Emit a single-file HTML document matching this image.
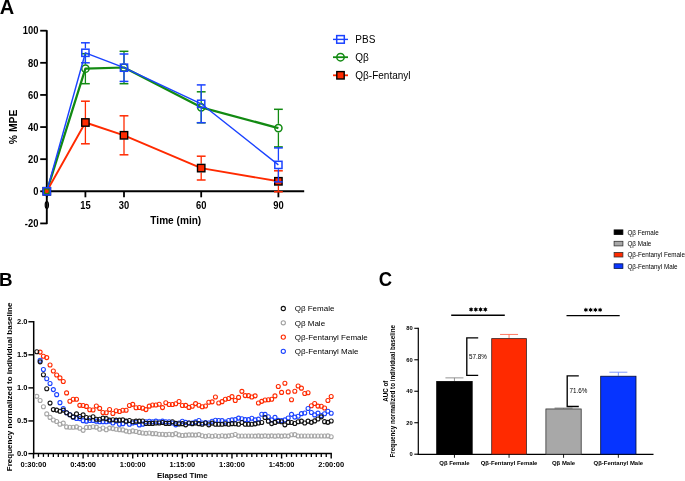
<!DOCTYPE html>
<html><head><meta charset="utf-8"><style>
html,body{margin:0;padding:0;background:#fff;width:685px;height:481px;overflow:hidden}
svg{display:block} .wrap{will-change:transform;width:685px;height:481px}
text{font-family:"Liberation Sans", sans-serif;fill:#000}
</style></head><body>
<div class="wrap"><svg width="685" height="481" viewBox="0 0 685 481">
<rect width="685" height="481" fill="#fff"/>
<text x="-0.3" y="13.7" font-size="20" font-weight="bold" fill="#111">A</text>
<line x1="46.8" y1="30.2" x2="46.8" y2="224.1" stroke="#000" stroke-width="1.9"/>
<line x1="45.9" y1="191.3" x2="304.2" y2="191.3" stroke="#000" stroke-width="1.9"/>
<line x1="40.2" y1="30.69999999999999" x2="46.8" y2="30.69999999999999" stroke="#000" stroke-width="1.8"/>
<text transform="translate(38.4,34.39999999999999) scale(1,1.13)" font-size="9.4" font-weight="bold" text-anchor="end">100</text>
<line x1="40.2" y1="62.81999999999999" x2="46.8" y2="62.81999999999999" stroke="#000" stroke-width="1.8"/>
<text transform="translate(38.4,66.52) scale(1,1.13)" font-size="9.4" font-weight="bold" text-anchor="end">80</text>
<line x1="40.2" y1="94.94000000000001" x2="46.8" y2="94.94000000000001" stroke="#000" stroke-width="1.8"/>
<text transform="translate(38.4,98.64000000000001) scale(1,1.13)" font-size="9.4" font-weight="bold" text-anchor="end">60</text>
<line x1="40.2" y1="127.06" x2="46.8" y2="127.06" stroke="#000" stroke-width="1.8"/>
<text transform="translate(38.4,130.76) scale(1,1.13)" font-size="9.4" font-weight="bold" text-anchor="end">40</text>
<line x1="40.2" y1="159.18" x2="46.8" y2="159.18" stroke="#000" stroke-width="1.8"/>
<text transform="translate(38.4,162.88) scale(1,1.13)" font-size="9.4" font-weight="bold" text-anchor="end">20</text>
<line x1="40.2" y1="191.3" x2="46.8" y2="191.3" stroke="#000" stroke-width="1.8"/>
<text transform="translate(38.4,195.0) scale(1,1.13)" font-size="9.4" font-weight="bold" text-anchor="end">0</text>
<line x1="40.2" y1="223.42000000000002" x2="46.8" y2="223.42000000000002" stroke="#000" stroke-width="1.8"/>
<text transform="translate(38.4,227.12) scale(1,1.13)" font-size="9.4" font-weight="bold" text-anchor="end">-20</text>
<line x1="46.8" y1="191" x2="46.8" y2="197.3" stroke="#000" stroke-width="1.8"/>
<text transform="translate(46.8,208.5) scale(1,1.13)" font-size="9.4" font-weight="bold" text-anchor="middle">0</text>
<line x1="85.39999999999999" y1="191" x2="85.39999999999999" y2="197.3" stroke="#000" stroke-width="1.8"/>
<text transform="translate(85.39999999999999,208.5) scale(1,1.13)" font-size="9.4" font-weight="bold" text-anchor="middle">15</text>
<line x1="123.99999999999999" y1="191" x2="123.99999999999999" y2="197.3" stroke="#000" stroke-width="1.8"/>
<text transform="translate(123.99999999999999,208.5) scale(1,1.13)" font-size="9.4" font-weight="bold" text-anchor="middle">30</text>
<line x1="201.2" y1="191" x2="201.2" y2="197.3" stroke="#000" stroke-width="1.8"/>
<text transform="translate(201.2,208.5) scale(1,1.13)" font-size="9.4" font-weight="bold" text-anchor="middle">60</text>
<line x1="278.4" y1="191" x2="278.4" y2="197.3" stroke="#000" stroke-width="1.8"/>
<text transform="translate(278.4,208.5) scale(1,1.13)" font-size="9.4" font-weight="bold" text-anchor="middle">90</text>
<text x="175.8" y="224.35" font-size="10.1" font-weight="bold" text-anchor="middle">Time (min)</text>
<text transform="translate(17,126.9) rotate(-90)" font-size="10.4" font-weight="bold" text-anchor="middle">% MPE</text>
<line x1="85.39999999999999" y1="53.7" x2="85.39999999999999" y2="64.4" stroke="#128a12" stroke-width="1.3"/>
<line x1="85.39999999999999" y1="73.0" x2="85.39999999999999" y2="83.7" stroke="#128a12" stroke-width="1.3"/>
<line x1="80.99999999999999" y1="53.7" x2="89.8" y2="53.7" stroke="#128a12" stroke-width="1.5"/>
<line x1="80.99999999999999" y1="83.7" x2="89.8" y2="83.7" stroke="#128a12" stroke-width="1.5"/>
<line x1="123.99999999999999" y1="51.3" x2="123.99999999999999" y2="63.2" stroke="#128a12" stroke-width="1.3"/>
<line x1="123.99999999999999" y1="71.8" x2="123.99999999999999" y2="83.7" stroke="#128a12" stroke-width="1.3"/>
<line x1="119.59999999999998" y1="51.3" x2="128.39999999999998" y2="51.3" stroke="#128a12" stroke-width="1.5"/>
<line x1="119.59999999999998" y1="83.7" x2="128.39999999999998" y2="83.7" stroke="#128a12" stroke-width="1.5"/>
<line x1="201.2" y1="91.8" x2="201.2" y2="103.0" stroke="#128a12" stroke-width="1.3"/>
<line x1="201.2" y1="111.6" x2="201.2" y2="122.8" stroke="#128a12" stroke-width="1.3"/>
<line x1="196.79999999999998" y1="91.8" x2="205.6" y2="91.8" stroke="#128a12" stroke-width="1.5"/>
<line x1="196.79999999999998" y1="122.8" x2="205.6" y2="122.8" stroke="#128a12" stroke-width="1.5"/>
<line x1="278.4" y1="109.3" x2="278.4" y2="123.8" stroke="#128a12" stroke-width="1.3"/>
<line x1="278.4" y1="132.4" x2="278.4" y2="146.9" stroke="#128a12" stroke-width="1.3"/>
<line x1="274.0" y1="109.3" x2="282.79999999999995" y2="109.3" stroke="#128a12" stroke-width="1.5"/>
<line x1="274.0" y1="146.9" x2="282.79999999999995" y2="146.9" stroke="#128a12" stroke-width="1.5"/>
<polyline points="46.80,191.30 85.40,68.70 124.00,67.50 201.20,107.30 278.40,128.10" fill="none" stroke="#128a12" stroke-width="2.25" stroke-linejoin="round"/>
<circle cx="46.8" cy="191.3" r="3.6" fill="none" stroke="#128a12" stroke-width="1.5"/>
<circle cx="85.39999999999999" cy="68.7" r="3.6" fill="none" stroke="#128a12" stroke-width="1.5"/>
<circle cx="123.99999999999999" cy="67.5" r="3.6" fill="none" stroke="#128a12" stroke-width="1.5"/>
<circle cx="201.2" cy="107.3" r="3.6" fill="none" stroke="#128a12" stroke-width="1.5"/>
<circle cx="278.4" cy="128.1" r="3.6" fill="none" stroke="#128a12" stroke-width="1.5"/>
<line x1="85.39999999999999" y1="101.2" x2="85.39999999999999" y2="118.2" stroke="#ff2a00" stroke-width="1.3"/>
<line x1="85.39999999999999" y1="126.8" x2="85.39999999999999" y2="143.8" stroke="#ff2a00" stroke-width="1.3"/>
<line x1="80.99999999999999" y1="101.2" x2="89.8" y2="101.2" stroke="#ff2a00" stroke-width="1.5"/>
<line x1="80.99999999999999" y1="143.8" x2="89.8" y2="143.8" stroke="#ff2a00" stroke-width="1.5"/>
<line x1="123.99999999999999" y1="115.80000000000001" x2="123.99999999999999" y2="131.0" stroke="#ff2a00" stroke-width="1.3"/>
<line x1="123.99999999999999" y1="139.60000000000002" x2="123.99999999999999" y2="154.8" stroke="#ff2a00" stroke-width="1.3"/>
<line x1="119.59999999999998" y1="115.80000000000001" x2="128.39999999999998" y2="115.80000000000001" stroke="#ff2a00" stroke-width="1.5"/>
<line x1="119.59999999999998" y1="154.8" x2="128.39999999999998" y2="154.8" stroke="#ff2a00" stroke-width="1.5"/>
<line x1="201.2" y1="156.2" x2="201.2" y2="163.79999999999998" stroke="#ff2a00" stroke-width="1.3"/>
<line x1="201.2" y1="172.4" x2="201.2" y2="180.0" stroke="#ff2a00" stroke-width="1.3"/>
<line x1="196.79999999999998" y1="156.2" x2="205.6" y2="156.2" stroke="#ff2a00" stroke-width="1.5"/>
<line x1="196.79999999999998" y1="180.0" x2="205.6" y2="180.0" stroke="#ff2a00" stroke-width="1.5"/>
<line x1="278.4" y1="170.8" x2="278.4" y2="177.0" stroke="#ff2a00" stroke-width="1.3"/>
<line x1="278.4" y1="185.60000000000002" x2="278.4" y2="191.8" stroke="#ff2a00" stroke-width="1.3"/>
<line x1="274.0" y1="170.8" x2="282.79999999999995" y2="170.8" stroke="#ff2a00" stroke-width="1.5"/>
<line x1="274.0" y1="191.8" x2="282.79999999999995" y2="191.8" stroke="#ff2a00" stroke-width="1.5"/>
<polyline points="46.80,191.30 85.40,122.50 124.00,135.30 201.20,168.10 278.40,181.30" fill="none" stroke="#ff2a00" stroke-width="1.9" stroke-linejoin="round"/>
<rect x="43.099999999999994" y="187.60000000000002" width="7.4" height="7.4" fill="#ff2a00" stroke="#000" stroke-width="1.4"/>
<rect x="81.69999999999999" y="118.8" width="7.4" height="7.4" fill="#ff2a00" stroke="#000" stroke-width="1.4"/>
<rect x="120.29999999999998" y="131.60000000000002" width="7.4" height="7.4" fill="#ff2a00" stroke="#000" stroke-width="1.4"/>
<rect x="197.5" y="164.4" width="7.4" height="7.4" fill="#ff2a00" stroke="#000" stroke-width="1.4"/>
<rect x="274.7" y="177.60000000000002" width="7.4" height="7.4" fill="#ff2a00" stroke="#000" stroke-width="1.4"/>
<line x1="85.39999999999999" y1="42.8" x2="85.39999999999999" y2="48.5" stroke="#1a42ff" stroke-width="1.3"/>
<line x1="85.39999999999999" y1="57.099999999999994" x2="85.39999999999999" y2="62.8" stroke="#1a42ff" stroke-width="1.3"/>
<line x1="80.99999999999999" y1="42.8" x2="89.8" y2="42.8" stroke="#1a42ff" stroke-width="1.5"/>
<line x1="80.99999999999999" y1="62.8" x2="89.8" y2="62.8" stroke="#1a42ff" stroke-width="1.5"/>
<line x1="123.99999999999999" y1="54.0" x2="123.99999999999999" y2="63.400000000000006" stroke="#1a42ff" stroke-width="1.3"/>
<line x1="123.99999999999999" y1="72.0" x2="123.99999999999999" y2="81.4" stroke="#1a42ff" stroke-width="1.3"/>
<line x1="119.59999999999998" y1="54.0" x2="128.39999999999998" y2="54.0" stroke="#1a42ff" stroke-width="1.5"/>
<line x1="119.59999999999998" y1="81.4" x2="128.39999999999998" y2="81.4" stroke="#1a42ff" stroke-width="1.5"/>
<line x1="201.2" y1="84.9" x2="201.2" y2="99.5" stroke="#1a42ff" stroke-width="1.3"/>
<line x1="201.2" y1="108.1" x2="201.2" y2="122.69999999999999" stroke="#1a42ff" stroke-width="1.3"/>
<line x1="196.79999999999998" y1="84.9" x2="205.6" y2="84.9" stroke="#1a42ff" stroke-width="1.5"/>
<line x1="196.79999999999998" y1="122.69999999999999" x2="205.6" y2="122.69999999999999" stroke="#1a42ff" stroke-width="1.5"/>
<line x1="278.4" y1="147.9" x2="278.4" y2="160.6" stroke="#1a42ff" stroke-width="1.3"/>
<line x1="278.4" y1="169.20000000000002" x2="278.4" y2="181.9" stroke="#1a42ff" stroke-width="1.3"/>
<line x1="274.0" y1="147.9" x2="282.79999999999995" y2="147.9" stroke="#1a42ff" stroke-width="1.5"/>
<line x1="274.0" y1="181.9" x2="282.79999999999995" y2="181.9" stroke="#1a42ff" stroke-width="1.5"/>
<polyline points="46.80,191.30 85.40,52.80 124.00,67.70 201.20,103.80 278.40,164.90" fill="none" stroke="#1a42ff" stroke-width="1.4" stroke-linejoin="round"/>
<circle cx="46.8" cy="191.3" r="2.6" fill="#ff2a00" stroke="#128a12" stroke-width="1.2"/>
<rect x="43.199999999999996" y="187.70000000000002" width="7.2" height="7.2" fill="none" stroke="#1a42ff" stroke-width="1.5"/>
<rect x="81.8" y="49.199999999999996" width="7.2" height="7.2" fill="none" stroke="#1a42ff" stroke-width="1.5"/>
<rect x="120.39999999999999" y="64.10000000000001" width="7.2" height="7.2" fill="none" stroke="#1a42ff" stroke-width="1.5"/>
<rect x="197.6" y="100.2" width="7.2" height="7.2" fill="none" stroke="#1a42ff" stroke-width="1.5"/>
<rect x="274.79999999999995" y="161.3" width="7.2" height="7.2" fill="none" stroke="#1a42ff" stroke-width="1.5"/>
<line x1="333" y1="39.4" x2="348" y2="39.4" stroke="#1a42ff" stroke-width="1.4"/>
<rect x="336.7" y="35.6" width="7.6" height="7.6" fill="none" stroke="#1a42ff" stroke-width="1.5"/>
<line x1="333" y1="57.2" x2="348" y2="57.2" stroke="#128a12" stroke-width="1.8"/>
<circle cx="340.5" cy="57.2" r="3.7" fill="none" stroke="#128a12" stroke-width="1.5"/>
<line x1="333" y1="75.3" x2="348" y2="75.3" stroke="#ff2a00" stroke-width="1.8"/>
<rect x="336.8" y="71.6" width="7.4" height="7.4" fill="#ff2a00" stroke="#000" stroke-width="1.4"/>
<text x="355.3" y="42.8" font-size="10" fill="#111">PBS</text>
<text x="355.3" y="60.6" font-size="10" fill="#111">Qβ</text>
<text x="355.3" y="78.7" font-size="10" fill="#111">Qβ-Fentanyl</text>
<text x="-1.0" y="285.7" font-size="18.8" font-weight="bold" fill="#111">B</text>
<line x1="33.7" y1="321.0" x2="33.7" y2="454.3" stroke="#000" stroke-width="1.5"/>
<line x1="33.0" y1="453.6" x2="331.9" y2="453.6" stroke="#000" stroke-width="1.5"/>
<line x1="28.4" y1="453.6" x2="33.8" y2="453.6" stroke="#000" stroke-width="1.4"/>
<text x="27.5" y="456.0" font-size="7.5" font-weight="bold" text-anchor="end">0.0</text>
<line x1="28.4" y1="420.9375" x2="33.8" y2="420.9375" stroke="#000" stroke-width="1.4"/>
<text x="27.5" y="422.9375" font-size="7.5" font-weight="bold" text-anchor="end">0.5</text>
<line x1="28.4" y1="387.875" x2="33.8" y2="387.875" stroke="#000" stroke-width="1.4"/>
<text x="27.5" y="389.875" font-size="7.5" font-weight="bold" text-anchor="end">1.0</text>
<line x1="28.4" y1="354.8125" x2="33.8" y2="354.8125" stroke="#000" stroke-width="1.4"/>
<text x="27.5" y="356.8125" font-size="7.5" font-weight="bold" text-anchor="end">1.5</text>
<line x1="28.4" y1="321.75" x2="33.8" y2="321.75" stroke="#000" stroke-width="1.4"/>
<text x="27.5" y="323.75" font-size="7.5" font-weight="bold" text-anchor="end">2.0</text>
<line x1="33.50" y1="453.6" x2="33.50" y2="458.5" stroke="#000" stroke-width="1.4"/>
<text x="33.50" y="466.7" font-size="7.5" font-weight="bold" text-anchor="middle">0:30:00</text>
<line x1="38.46" y1="453.6" x2="38.46" y2="456.9" stroke="#000" stroke-width="1.3"/>
<line x1="43.42" y1="453.6" x2="43.42" y2="456.9" stroke="#000" stroke-width="1.3"/>
<line x1="48.38" y1="453.6" x2="48.38" y2="456.9" stroke="#000" stroke-width="1.3"/>
<line x1="53.35" y1="453.6" x2="53.35" y2="456.9" stroke="#000" stroke-width="1.3"/>
<line x1="58.31" y1="453.6" x2="58.31" y2="456.9" stroke="#000" stroke-width="1.3"/>
<line x1="63.27" y1="453.6" x2="63.27" y2="456.9" stroke="#000" stroke-width="1.3"/>
<line x1="68.23" y1="453.6" x2="68.23" y2="456.9" stroke="#000" stroke-width="1.3"/>
<line x1="73.19" y1="453.6" x2="73.19" y2="456.9" stroke="#000" stroke-width="1.3"/>
<line x1="78.16" y1="453.6" x2="78.16" y2="456.9" stroke="#000" stroke-width="1.3"/>
<line x1="83.12" y1="453.6" x2="83.12" y2="458.5" stroke="#000" stroke-width="1.4"/>
<text x="83.12" y="466.7" font-size="7.5" font-weight="bold" text-anchor="middle">0:45:00</text>
<line x1="88.08" y1="453.6" x2="88.08" y2="456.9" stroke="#000" stroke-width="1.3"/>
<line x1="93.04" y1="453.6" x2="93.04" y2="456.9" stroke="#000" stroke-width="1.3"/>
<line x1="98.00" y1="453.6" x2="98.00" y2="456.9" stroke="#000" stroke-width="1.3"/>
<line x1="102.96" y1="453.6" x2="102.96" y2="456.9" stroke="#000" stroke-width="1.3"/>
<line x1="107.92" y1="453.6" x2="107.92" y2="456.9" stroke="#000" stroke-width="1.3"/>
<line x1="112.89" y1="453.6" x2="112.89" y2="456.9" stroke="#000" stroke-width="1.3"/>
<line x1="117.85" y1="453.6" x2="117.85" y2="456.9" stroke="#000" stroke-width="1.3"/>
<line x1="122.81" y1="453.6" x2="122.81" y2="456.9" stroke="#000" stroke-width="1.3"/>
<line x1="127.77" y1="453.6" x2="127.77" y2="456.9" stroke="#000" stroke-width="1.3"/>
<line x1="132.73" y1="453.6" x2="132.73" y2="458.5" stroke="#000" stroke-width="1.4"/>
<text x="132.73" y="466.7" font-size="7.5" font-weight="bold" text-anchor="middle">1:00:00</text>
<line x1="137.69" y1="453.6" x2="137.69" y2="456.9" stroke="#000" stroke-width="1.3"/>
<line x1="142.66" y1="453.6" x2="142.66" y2="456.9" stroke="#000" stroke-width="1.3"/>
<line x1="147.62" y1="453.6" x2="147.62" y2="456.9" stroke="#000" stroke-width="1.3"/>
<line x1="152.58" y1="453.6" x2="152.58" y2="456.9" stroke="#000" stroke-width="1.3"/>
<line x1="157.54" y1="453.6" x2="157.54" y2="456.9" stroke="#000" stroke-width="1.3"/>
<line x1="162.50" y1="453.6" x2="162.50" y2="456.9" stroke="#000" stroke-width="1.3"/>
<line x1="167.46" y1="453.6" x2="167.46" y2="456.9" stroke="#000" stroke-width="1.3"/>
<line x1="172.43" y1="453.6" x2="172.43" y2="456.9" stroke="#000" stroke-width="1.3"/>
<line x1="177.39" y1="453.6" x2="177.39" y2="456.9" stroke="#000" stroke-width="1.3"/>
<line x1="182.35" y1="453.6" x2="182.35" y2="458.5" stroke="#000" stroke-width="1.4"/>
<text x="182.35" y="466.7" font-size="7.5" font-weight="bold" text-anchor="middle">1:15:00</text>
<line x1="187.31" y1="453.6" x2="187.31" y2="456.9" stroke="#000" stroke-width="1.3"/>
<line x1="192.27" y1="453.6" x2="192.27" y2="456.9" stroke="#000" stroke-width="1.3"/>
<line x1="197.23" y1="453.6" x2="197.23" y2="456.9" stroke="#000" stroke-width="1.3"/>
<line x1="202.20" y1="453.6" x2="202.20" y2="456.9" stroke="#000" stroke-width="1.3"/>
<line x1="207.16" y1="453.6" x2="207.16" y2="456.9" stroke="#000" stroke-width="1.3"/>
<line x1="212.12" y1="453.6" x2="212.12" y2="456.9" stroke="#000" stroke-width="1.3"/>
<line x1="217.08" y1="453.6" x2="217.08" y2="456.9" stroke="#000" stroke-width="1.3"/>
<line x1="222.04" y1="453.6" x2="222.04" y2="456.9" stroke="#000" stroke-width="1.3"/>
<line x1="227.00" y1="453.6" x2="227.00" y2="456.9" stroke="#000" stroke-width="1.3"/>
<line x1="231.97" y1="453.6" x2="231.97" y2="458.5" stroke="#000" stroke-width="1.4"/>
<text x="231.97" y="466.7" font-size="7.5" font-weight="bold" text-anchor="middle">1:30:00</text>
<line x1="236.93" y1="453.6" x2="236.93" y2="456.9" stroke="#000" stroke-width="1.3"/>
<line x1="241.89" y1="453.6" x2="241.89" y2="456.9" stroke="#000" stroke-width="1.3"/>
<line x1="246.85" y1="453.6" x2="246.85" y2="456.9" stroke="#000" stroke-width="1.3"/>
<line x1="251.81" y1="453.6" x2="251.81" y2="456.9" stroke="#000" stroke-width="1.3"/>
<line x1="256.77" y1="453.6" x2="256.77" y2="456.9" stroke="#000" stroke-width="1.3"/>
<line x1="261.74" y1="453.6" x2="261.74" y2="456.9" stroke="#000" stroke-width="1.3"/>
<line x1="266.70" y1="453.6" x2="266.70" y2="456.9" stroke="#000" stroke-width="1.3"/>
<line x1="271.66" y1="453.6" x2="271.66" y2="456.9" stroke="#000" stroke-width="1.3"/>
<line x1="276.62" y1="453.6" x2="276.62" y2="456.9" stroke="#000" stroke-width="1.3"/>
<line x1="281.58" y1="453.6" x2="281.58" y2="458.5" stroke="#000" stroke-width="1.4"/>
<text x="281.58" y="466.7" font-size="7.5" font-weight="bold" text-anchor="middle">1:45:00</text>
<line x1="286.54" y1="453.6" x2="286.54" y2="456.9" stroke="#000" stroke-width="1.3"/>
<line x1="291.51" y1="453.6" x2="291.51" y2="456.9" stroke="#000" stroke-width="1.3"/>
<line x1="296.47" y1="453.6" x2="296.47" y2="456.9" stroke="#000" stroke-width="1.3"/>
<line x1="301.43" y1="453.6" x2="301.43" y2="456.9" stroke="#000" stroke-width="1.3"/>
<line x1="306.39" y1="453.6" x2="306.39" y2="456.9" stroke="#000" stroke-width="1.3"/>
<line x1="311.35" y1="453.6" x2="311.35" y2="456.9" stroke="#000" stroke-width="1.3"/>
<line x1="316.31" y1="453.6" x2="316.31" y2="456.9" stroke="#000" stroke-width="1.3"/>
<line x1="321.28" y1="453.6" x2="321.28" y2="456.9" stroke="#000" stroke-width="1.3"/>
<line x1="326.24" y1="453.6" x2="326.24" y2="456.9" stroke="#000" stroke-width="1.3"/>
<line x1="331.20" y1="453.6" x2="331.20" y2="458.5" stroke="#000" stroke-width="1.4"/>
<text x="331.20" y="466.7" font-size="7.5" font-weight="bold" text-anchor="middle">2:00:00</text>
<text x="182.4" y="478.1" font-size="7.9" font-weight="bold" text-anchor="middle">Elapsed Time</text>
<text transform="translate(12,386.9) rotate(-90)" font-size="8.0" font-weight="bold" text-anchor="middle">Frequency normalized to individual baseline</text>
<g fill="none" stroke="#a6a6a6" stroke-width="1.1"><circle cx="36.81" cy="396.33" r="2.0"/><circle cx="40.12" cy="400.55" r="2.0"/><circle cx="43.42" cy="406.79" r="2.0"/><circle cx="46.73" cy="413.91" r="2.0"/><circle cx="50.04" cy="417.40" r="2.0"/><circle cx="53.35" cy="420.07" r="2.0"/><circle cx="56.65" cy="421.53" r="2.0"/><circle cx="59.96" cy="424.19" r="2.0"/><circle cx="63.27" cy="423.17" r="2.0"/><circle cx="66.58" cy="426.89" r="2.0"/><circle cx="69.89" cy="427.31" r="2.0"/><circle cx="73.19" cy="427.32" r="2.0"/><circle cx="76.50" cy="426.91" r="2.0"/><circle cx="79.81" cy="428.32" r="2.0"/><circle cx="83.12" cy="430.37" r="2.0"/><circle cx="86.42" cy="427.40" r="2.0"/><circle cx="89.73" cy="427.40" r="2.0"/><circle cx="93.04" cy="426.79" r="2.0"/><circle cx="96.35" cy="427.14" r="2.0"/><circle cx="99.66" cy="429.23" r="2.0"/><circle cx="102.96" cy="428.07" r="2.0"/><circle cx="106.27" cy="429.79" r="2.0"/><circle cx="109.58" cy="428.09" r="2.0"/><circle cx="112.89" cy="428.61" r="2.0"/><circle cx="116.19" cy="429.27" r="2.0"/><circle cx="119.50" cy="429.64" r="2.0"/><circle cx="122.81" cy="429.90" r="2.0"/><circle cx="126.12" cy="431.12" r="2.0"/><circle cx="129.43" cy="431.76" r="2.0"/><circle cx="132.73" cy="430.90" r="2.0"/><circle cx="136.04" cy="431.52" r="2.0"/><circle cx="139.35" cy="432.38" r="2.0"/><circle cx="142.66" cy="433.03" r="2.0"/><circle cx="145.96" cy="433.37" r="2.0"/><circle cx="149.27" cy="433.04" r="2.0"/><circle cx="152.58" cy="433.64" r="2.0"/><circle cx="155.89" cy="433.64" r="2.0"/><circle cx="159.20" cy="434.26" r="2.0"/><circle cx="162.50" cy="434.27" r="2.0"/><circle cx="165.81" cy="434.63" r="2.0"/><circle cx="169.12" cy="434.27" r="2.0"/><circle cx="172.43" cy="434.63" r="2.0"/><circle cx="175.73" cy="433.66" r="2.0"/><circle cx="179.04" cy="434.88" r="2.0"/><circle cx="182.35" cy="435.50" r="2.0"/><circle cx="185.66" cy="435.15" r="2.0"/><circle cx="188.97" cy="434.89" r="2.0"/><circle cx="192.27" cy="434.88" r="2.0"/><circle cx="195.58" cy="435.12" r="2.0"/><circle cx="198.89" cy="434.65" r="2.0"/><circle cx="202.20" cy="435.80" r="2.0"/><circle cx="205.50" cy="436.22" r="2.0"/><circle cx="208.81" cy="435.78" r="2.0"/><circle cx="212.12" cy="436.22" r="2.0"/><circle cx="215.43" cy="435.79" r="2.0"/><circle cx="218.74" cy="436.20" r="2.0"/><circle cx="222.04" cy="435.82" r="2.0"/><circle cx="225.35" cy="436.16" r="2.0"/><circle cx="228.66" cy="435.87" r="2.0"/><circle cx="231.97" cy="435.22" r="2.0"/><circle cx="235.27" cy="434.51" r="2.0"/><circle cx="238.58" cy="436.04" r="2.0"/><circle cx="241.89" cy="435.99" r="2.0"/><circle cx="245.20" cy="435.98" r="2.0"/><circle cx="248.51" cy="436.05" r="2.0"/><circle cx="251.81" cy="435.93" r="2.0"/><circle cx="255.12" cy="436.10" r="2.0"/><circle cx="258.43" cy="435.88" r="2.0"/><circle cx="261.74" cy="436.13" r="2.0"/><circle cx="265.04" cy="435.86" r="2.0"/><circle cx="268.35" cy="436.15" r="2.0"/><circle cx="271.66" cy="435.85" r="2.0"/><circle cx="274.97" cy="436.15" r="2.0"/><circle cx="278.28" cy="435.85" r="2.0"/><circle cx="281.58" cy="436.14" r="2.0"/><circle cx="284.89" cy="435.87" r="2.0"/><circle cx="288.20" cy="436.11" r="2.0"/><circle cx="291.51" cy="434.82" r="2.0"/><circle cx="294.81" cy="434.63" r="2.0"/><circle cx="298.12" cy="435.94" r="2.0"/><circle cx="301.43" cy="436.04" r="2.0"/><circle cx="304.74" cy="435.98" r="2.0"/><circle cx="308.05" cy="436.00" r="2.0"/><circle cx="311.35" cy="436.02" r="2.0"/><circle cx="314.66" cy="435.97" r="2.0"/><circle cx="317.97" cy="436.05" r="2.0"/><circle cx="321.28" cy="435.94" r="2.0"/><circle cx="324.58" cy="436.07" r="2.0"/><circle cx="327.89" cy="435.92" r="2.0"/><circle cx="331.20" cy="436.79" r="2.0"/></g>
<g fill="none" stroke="#ff2a00" stroke-width="1.1"><circle cx="40.12" cy="352.10" r="2.0"/><circle cx="43.42" cy="356.22" r="2.0"/><circle cx="46.73" cy="357.61" r="2.0"/><circle cx="50.04" cy="365.01" r="2.0"/><circle cx="53.35" cy="370.93" r="2.0"/><circle cx="56.65" cy="374.95" r="2.0"/><circle cx="59.96" cy="377.88" r="2.0"/><circle cx="63.27" cy="381.57" r="2.0"/><circle cx="66.58" cy="392.92" r="2.0"/><circle cx="69.89" cy="401.26" r="2.0"/><circle cx="73.19" cy="399.30" r="2.0"/><circle cx="76.50" cy="399.30" r="2.0"/><circle cx="79.81" cy="405.33" r="2.0"/><circle cx="83.12" cy="405.50" r="2.0"/><circle cx="86.42" cy="406.42" r="2.0"/><circle cx="89.73" cy="409.68" r="2.0"/><circle cx="93.04" cy="409.93" r="2.0"/><circle cx="96.35" cy="405.98" r="2.0"/><circle cx="99.66" cy="408.39" r="2.0"/><circle cx="102.96" cy="412.53" r="2.0"/><circle cx="106.27" cy="412.68" r="2.0"/><circle cx="109.58" cy="409.44" r="2.0"/><circle cx="112.89" cy="413.45" r="2.0"/><circle cx="116.19" cy="410.81" r="2.0"/><circle cx="119.50" cy="411.55" r="2.0"/><circle cx="122.81" cy="410.19" r="2.0"/><circle cx="126.12" cy="410.19" r="2.0"/><circle cx="129.43" cy="405.56" r="2.0"/><circle cx="132.73" cy="404.34" r="2.0"/><circle cx="136.04" cy="407.69" r="2.0"/><circle cx="139.35" cy="407.44" r="2.0"/><circle cx="142.66" cy="408.14" r="2.0"/><circle cx="145.96" cy="409.58" r="2.0"/><circle cx="149.27" cy="406.13" r="2.0"/><circle cx="152.58" cy="404.95" r="2.0"/><circle cx="155.89" cy="404.93" r="2.0"/><circle cx="159.20" cy="404.19" r="2.0"/><circle cx="162.50" cy="407.62" r="2.0"/><circle cx="165.81" cy="402.72" r="2.0"/><circle cx="169.12" cy="404.57" r="2.0"/><circle cx="172.43" cy="404.57" r="2.0"/><circle cx="175.73" cy="403.72" r="2.0"/><circle cx="179.04" cy="401.45" r="2.0"/><circle cx="182.35" cy="405.50" r="2.0"/><circle cx="185.66" cy="405.33" r="2.0"/><circle cx="188.97" cy="407.41" r="2.0"/><circle cx="192.27" cy="406.24" r="2.0"/><circle cx="195.58" cy="403.59" r="2.0"/><circle cx="198.89" cy="405.31" r="2.0"/><circle cx="202.20" cy="406.80" r="2.0"/><circle cx="205.50" cy="405.97" r="2.0"/><circle cx="208.81" cy="402.19" r="2.0"/><circle cx="212.12" cy="401.84" r="2.0"/><circle cx="215.43" cy="397.07" r="2.0"/><circle cx="218.74" cy="402.97" r="2.0"/><circle cx="222.04" cy="401.66" r="2.0"/><circle cx="225.35" cy="399.30" r="2.0"/><circle cx="228.66" cy="398.56" r="2.0"/><circle cx="231.97" cy="396.67" r="2.0"/><circle cx="235.27" cy="400.48" r="2.0"/><circle cx="238.58" cy="397.38" r="2.0"/><circle cx="241.89" cy="391.37" r="2.0"/><circle cx="245.20" cy="395.59" r="2.0"/><circle cx="248.51" cy="395.65" r="2.0"/><circle cx="251.81" cy="397.05" r="2.0"/><circle cx="255.12" cy="395.86" r="2.0"/><circle cx="258.43" cy="403.02" r="2.0"/><circle cx="261.74" cy="401.37" r="2.0"/><circle cx="265.04" cy="399.93" r="2.0"/><circle cx="268.35" cy="399.69" r="2.0"/><circle cx="271.66" cy="399.32" r="2.0"/><circle cx="274.97" cy="395.89" r="2.0"/><circle cx="278.28" cy="386.43" r="2.0"/><circle cx="281.58" cy="392.38" r="2.0"/><circle cx="284.89" cy="383.19" r="2.0"/><circle cx="288.20" cy="391.90" r="2.0"/><circle cx="291.51" cy="399.69" r="2.0"/><circle cx="294.81" cy="391.19" r="2.0"/><circle cx="298.12" cy="386.03" r="2.0"/><circle cx="301.43" cy="388.15" r="2.0"/><circle cx="304.74" cy="393.46" r="2.0"/><circle cx="308.05" cy="392.72" r="2.0"/><circle cx="311.35" cy="405.81" r="2.0"/><circle cx="314.66" cy="403.46" r="2.0"/><circle cx="317.97" cy="406.11" r="2.0"/><circle cx="321.28" cy="406.18" r="2.0"/><circle cx="324.58" cy="408.01" r="2.0"/><circle cx="327.89" cy="400.52" r="2.0"/><circle cx="331.20" cy="396.44" r="2.0"/></g>
<g fill="none" stroke="#1a42ff" stroke-width="1.1"><circle cx="40.12" cy="360.28" r="2.0"/><circle cx="43.42" cy="369.45" r="2.0"/><circle cx="46.73" cy="378.69" r="2.0"/><circle cx="50.04" cy="383.47" r="2.0"/><circle cx="53.35" cy="389.61" r="2.0"/><circle cx="56.65" cy="394.63" r="2.0"/><circle cx="59.96" cy="402.67" r="2.0"/><circle cx="63.27" cy="408.55" r="2.0"/><circle cx="66.58" cy="412.77" r="2.0"/><circle cx="69.89" cy="414.79" r="2.0"/><circle cx="73.19" cy="417.29" r="2.0"/><circle cx="76.50" cy="418.56" r="2.0"/><circle cx="79.81" cy="418.60" r="2.0"/><circle cx="83.12" cy="420.65" r="2.0"/><circle cx="86.42" cy="421.13" r="2.0"/><circle cx="89.73" cy="420.54" r="2.0"/><circle cx="93.04" cy="420.54" r="2.0"/><circle cx="96.35" cy="421.14" r="2.0"/><circle cx="99.66" cy="421.77" r="2.0"/><circle cx="102.96" cy="421.79" r="2.0"/><circle cx="106.27" cy="421.79" r="2.0"/><circle cx="109.58" cy="421.19" r="2.0"/><circle cx="112.89" cy="422.93" r="2.0"/><circle cx="116.19" cy="421.17" r="2.0"/><circle cx="119.50" cy="424.24" r="2.0"/><circle cx="122.81" cy="423.65" r="2.0"/><circle cx="126.12" cy="421.81" r="2.0"/><circle cx="129.43" cy="424.27" r="2.0"/><circle cx="132.73" cy="423.05" r="2.0"/><circle cx="136.04" cy="422.43" r="2.0"/><circle cx="139.35" cy="424.88" r="2.0"/><circle cx="142.66" cy="424.16" r="2.0"/><circle cx="145.96" cy="421.77" r="2.0"/><circle cx="149.27" cy="421.19" r="2.0"/><circle cx="152.58" cy="421.77" r="2.0"/><circle cx="155.89" cy="421.17" r="2.0"/><circle cx="159.20" cy="421.77" r="2.0"/><circle cx="162.50" cy="421.17" r="2.0"/><circle cx="165.81" cy="421.78" r="2.0"/><circle cx="169.12" cy="421.81" r="2.0"/><circle cx="172.43" cy="423.03" r="2.0"/><circle cx="175.73" cy="424.87" r="2.0"/><circle cx="179.04" cy="423.03" r="2.0"/><circle cx="182.35" cy="421.20" r="2.0"/><circle cx="185.66" cy="422.37" r="2.0"/><circle cx="188.97" cy="423.02" r="2.0"/><circle cx="192.27" cy="423.03" r="2.0"/><circle cx="195.58" cy="421.85" r="2.0"/><circle cx="198.89" cy="420.54" r="2.0"/><circle cx="202.20" cy="423.00" r="2.0"/><circle cx="205.50" cy="422.43" r="2.0"/><circle cx="208.81" cy="422.98" r="2.0"/><circle cx="212.12" cy="421.21" r="2.0"/><circle cx="215.43" cy="420.21" r="2.0"/><circle cx="218.74" cy="420.54" r="2.0"/><circle cx="222.04" cy="420.65" r="2.0"/><circle cx="225.35" cy="422.08" r="2.0"/><circle cx="228.66" cy="420.50" r="2.0"/><circle cx="231.97" cy="419.90" r="2.0"/><circle cx="235.27" cy="419.61" r="2.0"/><circle cx="238.58" cy="418.08" r="2.0"/><circle cx="241.89" cy="418.70" r="2.0"/><circle cx="245.20" cy="419.67" r="2.0"/><circle cx="248.51" cy="419.60" r="2.0"/><circle cx="251.81" cy="418.19" r="2.0"/><circle cx="255.12" cy="419.87" r="2.0"/><circle cx="258.43" cy="419.16" r="2.0"/><circle cx="261.74" cy="414.28" r="2.0"/><circle cx="265.04" cy="414.34" r="2.0"/><circle cx="268.35" cy="416.79" r="2.0"/><circle cx="271.66" cy="419.85" r="2.0"/><circle cx="274.97" cy="417.42" r="2.0"/><circle cx="278.28" cy="420.37" r="2.0"/><circle cx="281.58" cy="420.51" r="2.0"/><circle cx="284.89" cy="419.90" r="2.0"/><circle cx="288.20" cy="417.99" r="2.0"/><circle cx="291.51" cy="414.36" r="2.0"/><circle cx="294.81" cy="417.11" r="2.0"/><circle cx="298.12" cy="416.32" r="2.0"/><circle cx="301.43" cy="413.65" r="2.0"/><circle cx="304.74" cy="413.01" r="2.0"/><circle cx="308.05" cy="408.43" r="2.0"/><circle cx="311.35" cy="412.55" r="2.0"/><circle cx="314.66" cy="414.89" r="2.0"/><circle cx="317.97" cy="413.09" r="2.0"/><circle cx="321.28" cy="415.43" r="2.0"/><circle cx="324.58" cy="413.71" r="2.0"/><circle cx="327.89" cy="411.27" r="2.0"/><circle cx="331.20" cy="413.29" r="2.0"/></g>
<g fill="none" stroke="#111" stroke-width="1.1"><circle cx="36.81" cy="351.73" r="2.0"/><circle cx="40.12" cy="361.85" r="2.0"/><circle cx="43.42" cy="374.82" r="2.0"/><circle cx="46.73" cy="388.77" r="2.0"/><circle cx="50.04" cy="403.08" r="2.0"/><circle cx="53.35" cy="409.61" r="2.0"/><circle cx="56.65" cy="410.12" r="2.0"/><circle cx="59.96" cy="411.28" r="2.0"/><circle cx="63.27" cy="410.11" r="2.0"/><circle cx="66.58" cy="412.78" r="2.0"/><circle cx="69.89" cy="414.79" r="2.0"/><circle cx="73.19" cy="416.90" r="2.0"/><circle cx="76.50" cy="413.89" r="2.0"/><circle cx="79.81" cy="416.43" r="2.0"/><circle cx="83.12" cy="414.84" r="2.0"/><circle cx="86.42" cy="417.45" r="2.0"/><circle cx="89.73" cy="418.04" r="2.0"/><circle cx="93.04" cy="416.82" r="2.0"/><circle cx="96.35" cy="419.20" r="2.0"/><circle cx="99.66" cy="419.29" r="2.0"/><circle cx="102.96" cy="418.09" r="2.0"/><circle cx="106.27" cy="418.63" r="2.0"/><circle cx="109.58" cy="420.11" r="2.0"/><circle cx="112.89" cy="419.69" r="2.0"/><circle cx="116.19" cy="420.16" r="2.0"/><circle cx="119.50" cy="420.16" r="2.0"/><circle cx="122.81" cy="419.92" r="2.0"/><circle cx="126.12" cy="421.15" r="2.0"/><circle cx="129.43" cy="420.55" r="2.0"/><circle cx="132.73" cy="421.77" r="2.0"/><circle cx="136.04" cy="421.16" r="2.0"/><circle cx="139.35" cy="421.16" r="2.0"/><circle cx="142.66" cy="420.94" r="2.0"/><circle cx="145.96" cy="423.41" r="2.0"/><circle cx="149.27" cy="423.41" r="2.0"/><circle cx="152.58" cy="423.40" r="2.0"/><circle cx="155.89" cy="423.03" r="2.0"/><circle cx="159.20" cy="423.01" r="2.0"/><circle cx="162.50" cy="422.43" r="2.0"/><circle cx="165.81" cy="423.41" r="2.0"/><circle cx="169.12" cy="423.38" r="2.0"/><circle cx="172.43" cy="421.79" r="2.0"/><circle cx="175.73" cy="423.38" r="2.0"/><circle cx="179.04" cy="423.91" r="2.0"/><circle cx="182.35" cy="423.66" r="2.0"/><circle cx="185.66" cy="424.86" r="2.0"/><circle cx="188.97" cy="423.07" r="2.0"/><circle cx="192.27" cy="423.64" r="2.0"/><circle cx="195.58" cy="423.07" r="2.0"/><circle cx="198.89" cy="423.64" r="2.0"/><circle cx="202.20" cy="424.26" r="2.0"/><circle cx="205.50" cy="423.07" r="2.0"/><circle cx="208.81" cy="424.86" r="2.0"/><circle cx="212.12" cy="423.08" r="2.0"/><circle cx="215.43" cy="424.22" r="2.0"/><circle cx="218.74" cy="424.28" r="2.0"/><circle cx="222.04" cy="424.24" r="2.0"/><circle cx="225.35" cy="423.69" r="2.0"/><circle cx="228.66" cy="424.24" r="2.0"/><circle cx="231.97" cy="423.66" r="2.0"/><circle cx="235.27" cy="423.68" r="2.0"/><circle cx="238.58" cy="424.18" r="2.0"/><circle cx="241.89" cy="422.47" r="2.0"/><circle cx="245.20" cy="424.28" r="2.0"/><circle cx="248.51" cy="424.27" r="2.0"/><circle cx="251.81" cy="424.27" r="2.0"/><circle cx="255.12" cy="423.85" r="2.0"/><circle cx="258.43" cy="423.00" r="2.0"/><circle cx="261.74" cy="422.43" r="2.0"/><circle cx="265.04" cy="417.48" r="2.0"/><circle cx="268.35" cy="421.15" r="2.0"/><circle cx="271.66" cy="423.60" r="2.0"/><circle cx="274.97" cy="422.38" r="2.0"/><circle cx="278.28" cy="421.20" r="2.0"/><circle cx="281.58" cy="421.79" r="2.0"/><circle cx="284.89" cy="424.85" r="2.0"/><circle cx="288.20" cy="422.39" r="2.0"/><circle cx="291.51" cy="422.43" r="2.0"/><circle cx="294.81" cy="423.55" r="2.0"/><circle cx="298.12" cy="421.77" r="2.0"/><circle cx="301.43" cy="421.14" r="2.0"/><circle cx="304.74" cy="423.00" r="2.0"/><circle cx="308.05" cy="421.15" r="2.0"/><circle cx="311.35" cy="422.36" r="2.0"/><circle cx="314.66" cy="420.91" r="2.0"/><circle cx="317.97" cy="418.95" r="2.0"/><circle cx="321.28" cy="416.87" r="2.0"/><circle cx="324.58" cy="421.65" r="2.0"/><circle cx="327.89" cy="422.37" r="2.0"/><circle cx="331.20" cy="420.99" r="2.0"/></g>
<circle cx="283.3" cy="308.5" r="2.1" fill="none" stroke="#111" stroke-width="1.1"/>
<text x="294.7" y="311.4" font-size="8" fill="#111">Qβ Female</text>
<circle cx="283.3" cy="322.8" r="2.1" fill="none" stroke="#a0a0a0" stroke-width="1.1"/>
<text x="294.7" y="325.7" font-size="8" fill="#111">Qβ Male</text>
<circle cx="283.3" cy="337.1" r="2.1" fill="none" stroke="#ff2a00" stroke-width="1.1"/>
<text x="294.7" y="340.0" font-size="8" fill="#111">Qβ-Fentanyl Female</text>
<circle cx="283.3" cy="351.3" r="2.1" fill="none" stroke="#1a42ff" stroke-width="1.1"/>
<text x="294.7" y="354.2" font-size="8" fill="#111">Qβ-Fentanyl Male</text>
<text transform="translate(378.7,286.1) scale(0.97,1.1)" font-size="19" font-weight="bold" fill="#111">C</text>
<line x1="418.3" y1="327.8" x2="418.3" y2="454.6" stroke="#000" stroke-width="1.2"/>
<line x1="417.7" y1="454.3" x2="653.5" y2="454.3" stroke="#000" stroke-width="1.3"/>
<line x1="414.3" y1="454.2" x2="418.3" y2="454.2" stroke="#000" stroke-width="1.1"/>
<text x="412.8" y="456.2" font-size="5.8" font-weight="bold" text-anchor="end">0</text>
<line x1="414.3" y1="422.725" x2="418.3" y2="422.725" stroke="#000" stroke-width="1.1"/>
<text x="412.8" y="424.725" font-size="5.8" font-weight="bold" text-anchor="end">20</text>
<line x1="414.3" y1="391.25" x2="418.3" y2="391.25" stroke="#000" stroke-width="1.1"/>
<text x="412.8" y="393.25" font-size="5.8" font-weight="bold" text-anchor="end">40</text>
<line x1="414.3" y1="359.775" x2="418.3" y2="359.775" stroke="#000" stroke-width="1.1"/>
<text x="412.8" y="361.775" font-size="5.8" font-weight="bold" text-anchor="end">60</text>
<line x1="414.3" y1="328.3" x2="418.3" y2="328.3" stroke="#000" stroke-width="1.1"/>
<text x="412.8" y="330.3" font-size="5.8" font-weight="bold" text-anchor="end">80</text>
<line x1="454.45000000000005" y1="377.873125" x2="454.45000000000005" y2="381.020625" stroke="#888" stroke-width="0.9"/>
<line x1="445.45000000000005" y1="377.873125" x2="463.45000000000005" y2="377.873125" stroke="#888" stroke-width="0.9"/>
<rect x="436.7" y="381.420625" width="35.500000000000014" height="72.77937499999999" fill="#000" stroke="#000" stroke-width="0.8"/>
<line x1="454.45000000000005" y1="454" x2="454.45000000000005" y2="457.8" stroke="#000" stroke-width="0.9"/>
<text x="454.45000000000005" y="464.7" font-size="5.95" font-weight="bold" text-anchor="middle">Qβ Female</text>
<line x1="509.04999999999995" y1="334.437625" x2="509.04999999999995" y2="338.214625" stroke="#ff6a50" stroke-width="0.9"/>
<line x1="500.04999999999995" y1="334.437625" x2="518.05" y2="334.437625" stroke="#ff6a50" stroke-width="0.9"/>
<rect x="491.7" y="338.614625" width="34.699999999999946" height="115.58537499999997" fill="#ff2a00" stroke="#3a2020" stroke-width="0.8"/>
<line x1="509.04999999999995" y1="454" x2="509.04999999999995" y2="457.8" stroke="#000" stroke-width="0.9"/>
<text x="509.04999999999995" y="464.7" font-size="5.95" font-weight="bold" text-anchor="middle">Qβ-Fentanyl Female</text>
<line x1="563.55" y1="408.08912499999997" x2="563.55" y2="408.56125" stroke="#777" stroke-width="0.9"/>
<line x1="554.55" y1="408.08912499999997" x2="572.55" y2="408.08912499999997" stroke="#777" stroke-width="0.9"/>
<rect x="545.9" y="408.96124999999995" width="35.300000000000026" height="45.23875000000002" fill="#a8a8a8" stroke="#333" stroke-width="0.8"/>
<line x1="563.55" y1="454" x2="563.55" y2="457.8" stroke="#000" stroke-width="0.9"/>
<text x="563.55" y="464.7" font-size="5.95" font-weight="bold" text-anchor="middle">Qβ Male</text>
<line x1="618.3499999999999" y1="372.207625" x2="618.3499999999999" y2="375.82725" stroke="#6f8cff" stroke-width="0.9"/>
<line x1="609.3499999999999" y1="372.207625" x2="627.3499999999999" y2="372.207625" stroke="#6f8cff" stroke-width="0.9"/>
<rect x="600.6999999999999" y="376.22724999999997" width="35.300000000000026" height="77.97274999999999" fill="#0634ff" stroke="#000a30" stroke-width="0.8"/>
<line x1="618.3499999999999" y1="454" x2="618.3499999999999" y2="457.8" stroke="#000" stroke-width="0.9"/>
<text x="618.3499999999999" y="464.7" font-size="5.95" font-weight="bold" text-anchor="middle">Qβ-Fentanyl Male</text>
<line x1="451.2" y1="315.2" x2="504.8" y2="315.2" stroke="#000" stroke-width="1.4"/>
<polygon points="471.07,307.05 471.75,308.33 473.20,308.27 472.43,309.50 473.20,310.73 471.75,310.67 471.07,311.95 470.40,310.67 468.95,310.73 469.72,309.50 468.95,308.27 470.40,308.33" fill="#000"/>
<polygon points="475.82,307.05 476.50,308.33 477.95,308.27 477.18,309.50 477.95,310.73 476.50,310.67 475.82,311.95 475.15,310.67 473.70,310.73 474.47,309.50 473.70,308.27 475.15,308.33" fill="#000"/>
<polygon points="480.57,307.05 481.25,308.33 482.70,308.27 481.93,309.50 482.70,310.73 481.25,310.67 480.57,311.95 479.90,310.67 478.45,310.73 479.22,309.50 478.45,308.27 479.90,308.33" fill="#000"/>
<polygon points="485.32,307.05 486.00,308.33 487.45,308.27 486.68,309.50 487.45,310.73 486.00,310.67 485.32,311.95 484.65,310.67 483.20,310.73 483.97,309.50 483.20,308.27 484.65,308.33" fill="#000"/>
<line x1="566.5" y1="315.6" x2="619.7" y2="315.6" stroke="#000" stroke-width="1.4"/>
<polygon points="585.88,307.45 586.55,308.73 588.00,308.68 587.23,309.90 588.00,311.13 586.55,311.07 585.88,312.35 585.20,311.07 583.75,311.13 584.52,309.90 583.75,308.68 585.20,308.73" fill="#000"/>
<polygon points="590.62,307.45 591.30,308.73 592.75,308.68 591.98,309.90 592.75,311.13 591.30,311.07 590.62,312.35 589.95,311.07 588.50,311.13 589.27,309.90 588.50,308.68 589.95,308.73" fill="#000"/>
<polygon points="595.38,307.45 596.05,308.73 597.50,308.68 596.73,309.90 597.50,311.13 596.05,311.07 595.38,312.35 594.70,311.07 593.25,311.13 594.02,309.90 593.25,308.68 594.70,308.73" fill="#000"/>
<polygon points="600.12,307.45 600.80,308.73 602.25,308.68 601.48,309.90 602.25,311.13 600.80,311.07 600.12,312.35 599.45,311.07 598.00,311.13 598.77,309.90 598.00,308.68 599.45,308.73" fill="#000"/>
<path d="M478.2,337.8 H466.8 V375.3 H478.2" fill="none" stroke="#000" stroke-width="1.35"/>
<text x="469.0" y="358.7" font-size="6.3" fill="#222">57.8%</text>
<path d="M578.8,375.8 H567.2 V406.5 H578.8" fill="none" stroke="#000" stroke-width="1.35"/>
<text x="569.4000000000001" y="392.7" font-size="6.3" fill="#222">71.6%</text>
<text transform="translate(387.6,391.2) rotate(-90)" font-size="6.3" font-weight="bold" text-anchor="middle">AUC of</text>
<text transform="translate(395.3,391.2) rotate(-90)" font-size="6.3" font-weight="bold" text-anchor="middle">Frequency normalized to individual baseline</text>
<rect x="614.1" y="229.89999999999998" width="8.8" height="4.6" fill="#000" stroke="#000" stroke-width="0.8"/>
<text x="627.4" y="234.7" font-size="6.3" fill="#111">Qβ Female</text>
<rect x="614.1" y="241.29999999999998" width="8.8" height="4.6" fill="#a8a8a8" stroke="#333" stroke-width="0.8"/>
<text x="627.4" y="246.1" font-size="6.3" fill="#111">Qβ Male</text>
<rect x="614.1" y="252.39999999999998" width="8.8" height="4.6" fill="#ff2a00" stroke="#333" stroke-width="0.8"/>
<text x="627.4" y="257.2" font-size="6.3" fill="#111">Qβ-Fentanyl Female</text>
<rect x="614.1" y="263.8" width="8.8" height="4.6" fill="#0a36ff" stroke="#00124a" stroke-width="0.8"/>
<text x="627.4" y="268.6" font-size="6.3" fill="#111">Qβ-Fentanyl Male</text>
</svg></div>
</body></html>
